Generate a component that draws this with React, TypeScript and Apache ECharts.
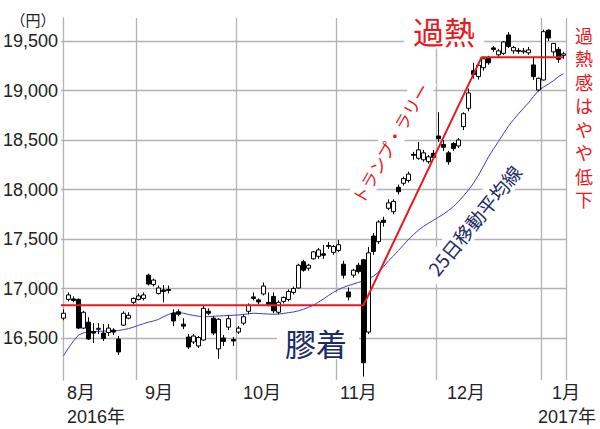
import React, { useEffect, useRef } from 'react';
import * as echarts from 'echarts';

// ---- data ----
const dates = [
  '2016/08/10','2016/08/12','2016/08/15','2016/08/16','2016/08/17','2016/08/18','2016/08/19','2016/08/22','2016/08/23','2016/08/24','2016/08/25','2016/08/26','2016/08/29','2016/08/30','2016/08/31',
  '2016/09/01','2016/09/02','2016/09/05','2016/09/06','2016/09/07','2016/09/08','2016/09/09','2016/09/12','2016/09/13','2016/09/14','2016/09/15','2016/09/16','2016/09/20','2016/09/21','2016/09/23','2016/09/26','2016/09/27','2016/09/28','2016/09/29','2016/09/30',
  '2016/10/03','2016/10/04','2016/10/05','2016/10/06','2016/10/07','2016/10/11','2016/10/12','2016/10/13','2016/10/14','2016/10/17','2016/10/18','2016/10/19','2016/10/20','2016/10/21','2016/10/24','2016/10/25','2016/10/26','2016/10/27','2016/10/28','2016/10/31',
  '2016/11/01','2016/11/02','2016/11/04','2016/11/07','2016/11/08','2016/11/09','2016/11/10','2016/11/11','2016/11/14','2016/11/15','2016/11/16','2016/11/17','2016/11/18','2016/11/21','2016/11/22','2016/11/24','2016/11/25','2016/11/28','2016/11/29','2016/11/30',
  '2016/12/01','2016/12/02','2016/12/05','2016/12/06','2016/12/07','2016/12/08','2016/12/09','2016/12/12','2016/12/13','2016/12/14','2016/12/15','2016/12/16','2016/12/19','2016/12/20','2016/12/21','2016/12/22','2016/12/26','2016/12/27','2016/12/28','2016/12/29','2016/12/30',
  '2017/01/04','2017/01/05','2017/01/06','2017/01/10','2017/01/11',
];

const opens = [
  16700,16890,16895,16890,16600,16660,16565,16588,16550,16555,16580,16490,16630,16700,16860,
  16890,16900,17135,17040,16950,16985,16990,16750,16765,16640,16510,16460,16420,16480,16770,16700,16390,16500,16610,16485,
  16560,16650,16770,16915,16885,16945,16860,16920,16760,16870,16890,16960,17005,17270,17205,17300,17325,17350,17425,17365,
  17385,17245,16965,17135,17235,17290,16560,17530,17473,17690,17810,17776,18022,18063,18090,18355,18315,18300,18281,18365,
  18540,18455,18370,18465,18440,18635,18820,19200,19140,19230,19325,19430,19360,19375,19560,19400,19405,19390,19380,19258,19005,
  19106,19610,19390,19415,19355,
];
const closes = [
  16750,16935,16880,16600,16760,16490,16550,16598,16495,16600,16560,16360,16750,16730,16900,
  16925,16935,17045,17085,17005,16970,16980,16672,16740,16620,16410,16520,16505,16800,16750,16550,16690,16465,16695,16470,
  16600,16715,16830,16900,16865,17025,16840,16775,16860,16910,16970,17000,17235,17185,17235,17370,17390,17336,17435,17425,
  17442,17134,16915,17185,17171,16251,17360,17374,17672,17668,17865,17880,17978,18110,18156,18345,18400,18370,18330,18325,
  18513,18426,18280,18415,18500,18765,18975,19160,19255,19320,19280,19415,19400,19490,19445,19435,19396,19400,19410,19140,19123,
  19594,19530,19475,19315,19370,
];
const lows = [
  16680,16870,16860,16590,16590,16480,16450,16540,16470,16520,16530,16330,16620,16690,16840,
  16880,16880,17030,17020,16940,16860,16950,16620,16720,16590,16390,16440,16400,16470,16730,16530,16290,16420,16580,16420,
  16540,16630,16740,16880,16840,16930,16820,16750,16740,16850,16870,16940,17000,17170,17180,17290,17300,17300,17400,17340,
  17370,17100,16880,17110,17150,16111,16540,17340,17450,17625,17790,17750,17950,18040,18070,18300,18300,18280,18260,18310,
  18480,18390,18250,18390,18420,18600,18790,19120,19110,19200,19260,19390,19340,19360,19430,19370,19370,19370,19360,19106,18990,
  19100,19500,19350,19280,19320,
];
const highs = [
  16790,16960,16920,16900,16775,16710,16650,16650,16640,16640,16600,16520,16770,16760,16910,
  16950,16960,17150,17100,17030,17035,17030,16790,16790,16700,16540,16540,16520,16830,16800,16720,16700,16530,16730,16510,
  16620,16740,16850,16960,16900,17060,16960,16960,16880,16920,16990,17020,17250,17290,17250,17380,17410,17440,17470,17440,
  17490,17280,17010,17200,17260,17300,17420,17560,17690,17725,17900,17900,18050,18130,18180,18380,18480,18400,18350,18400,
  18780,18500,18390,18480,18520,18780,19020,19280,19280,19340,19350,19450,19420,19500,19590,19450,19430,19430,19440,19340,19130,
  19615,19615,19480,19440,19390,
];

const ma25 = [
  16320,16400,16470,16530,16552,16562,16565,16568,16570,16572,16573,16575,16585,16595,16610,
  16628,16645,16660,16672,16688,16715,16738,16755,16758,16750,16738,16728,16720,16716,16716,16720,16722,16725,16728,16730,
  16733,16738,16745,16750,16748,16745,16742,16740,16742,16748,16756,16763,16775,16790,16810,16832,16862,16895,16930,16962,
  16990,17012,17030,17045,17062,17078,17100,17125,17165,17220,17280,17330,17385,17440,17495,17545,17590,17628,17660,17690,
  17720,17752,17787,17830,17880,17935,17995,18065,18145,18235,18330,18410,18485,18565,18640,18705,18765,18820,18875,18940,19000,
  19035,19065,19100,19140,19170,
];

// annotation trend line (day index, price)
const trendX = [-0.5, 60, 83.6, 99.9];
const trendY = [16830, 16830, 19335, 19335];

// axis tick labels
const yTickMin = 16500;
const yTickMax = 19500;
const yTickStep = 500;
const monthLabels = ['8月', '9月', '10月', '11月', '12月', '1月'];
const monthLabelIdx = [0, 15, 35, 55, 75, 96];
const yearLabels = ['2016年', '2017年'];
const yearLabelIdx = [0, 96];

// ---- styling constants ----
const FONT = '"Liberation Sans", Arial, "Noto Sans CJK JP", sans-serif';
const JFONT = '"Noto Sans CJK JP", "Liberation Sans", sans-serif';
const GRID_COLOR = '#b2b2b2';
const RED = '#e8191e';
const NAVY = '#1c2a68';
const Y_MIN = 16076;
const Y_MAX = 19732;
const monthDx = [3.5, 6.5, 4.5, 1.5, 8.5, 8.5];
const yearDx = [3.5, -5.5];

export default function App() {
  const ref = useRef<HTMLDivElement>(null);

  useEffect(() => {
    if (!ref.current) return;
    const chart = echarts.init(ref.current, null, { renderer: 'svg' });

    const isMonthStart = (i: number) =>
      i > 0 && dates[i].slice(5, 7) !== dates[i - 1].slice(5, 7);

    const option: any = {
      animation: false,
      backgroundColor: '#ffffff',
      grid: [
        { left: 61, top: 18, width: 505, height: 362 },
        { left: 61, top: 41, width: 505, height: 297 },
      ],
      xAxis: [
        {
          type: 'category',
          gridIndex: 0,
          data: dates,
          boundaryGap: true,
          axisLine: { show: false },
          axisTick: { show: false },
          axisLabel: { show: false },
          splitLine: {
            show: true,
            interval: (i: number) => isMonthStart(i),
            lineStyle: { color: GRID_COLOR, width: 1.3 },
          },
        },
        { type: 'value', gridIndex: 1, min: 0, max: 1, show: false },
        { type: 'value', gridIndex: 0, min: -0.5, max: dates.length - 0.5, show: false },
      ],
      yAxis: [
        {
          type: 'value',
          gridIndex: 0,
          min: Y_MIN,
          max: Y_MAX,
          axisLine: { show: true, lineStyle: { color: GRID_COLOR, width: 1.3 } },
          axisTick: { show: false },
          axisLabel: { show: false },
          splitLine: { show: false },
        },
        {
          type: 'value',
          gridIndex: 1,
          min: yTickMin,
          max: yTickMax,
          interval: yTickStep,
          axisLine: { show: false },
          axisTick: { show: false },
          axisLabel: {
            show: true,
            margin: 3,
            fontSize: 18,
            fontFamily: FONT,
            color: '#222',
            formatter: (v: number) => v.toLocaleString('en-US'),
          },
          splitLine: { show: true, lineStyle: { color: GRID_COLOR, width: 1.3 } },
        },
      ],
      series: [
        {
          type: 'line',
          name: '25日移動平均線',
          xAxisIndex: 0,
          yAxisIndex: 0,
          data: ma25,
          symbol: 'none',
          smooth: false,
          lineStyle: { color: '#3a3ad6', width: 1 },
          z: 2,
        },
        {
          type: 'candlestick',
          name: '日経平均',
          xAxisIndex: 0,
          yAxisIndex: 0,
          barWidth: 4,
          data: dates.map((_, i) => [opens[i], closes[i], lows[i], highs[i]]),
          itemStyle: {
            color: '#ffffff',
            color0: '#000000',
            borderColor: '#000000',
            borderColor0: '#000000',
            borderWidth: 1,
          },
          z: 3,
        },
        {
          type: 'line',
          name: 'trend',
          xAxisIndex: 2,
          yAxisIndex: 0,
          data: trendX.map((x, i) => [x, trendY[i]]),
          symbol: 'none',
          lineStyle: { color: RED, width: 2 },
          z: 4,
        },
      ],
    };
    chart.setOption(option);

    const labelEls: any[] = [];
    monthLabels.forEach((t, k) => {
      const px = chart.convertToPixel({ xAxisIndex: 0 }, monthLabelIdx[k]) as number;
      labelEls.push({
        type: 'text',
        x: px + monthDx[k],
        y: 393,
        style: { text: t, fontSize: 18, fontFamily: FONT, fill: '#222', align: 'left', verticalAlign: 'middle' },
      });
    });
    yearLabels.forEach((t, k) => {
      const px = chart.convertToPixel({ xAxisIndex: 0 }, yearLabelIdx[k]) as number;
      labelEls.push({
        type: 'text',
        x: px + yearDx[k],
        y: 417,
        style: { text: t, fontSize: 18, fontFamily: FONT, fill: '#222', align: 'left', verticalAlign: 'middle' },
      });
    });

    const annot: any[] = [
      {
        type: 'text',
        x: 33,
        y: 19,
        style: { text: '（円）', fontSize: 15, fontFamily: JFONT, fill: '#222', align: 'center', verticalAlign: 'middle' },
      },
      {
        type: 'text',
        x: 444,
        y: 30,
        z: 1,
        style: {
          text: '過熱', fontSize: 31, fontFamily: JFONT, fill: RED, align: 'center', verticalAlign: 'middle',
          backgroundColor: '#fff', padding: [2, 9, 4, 9],
        },
      },
      {
        type: 'text',
        x: 584,
        y: 23,
        style: {
          text: '過\n熱\n感\nは\nや\nや\n低\n下', fontSize: 18, lineHeight: 23.5, fontFamily: JFONT,
          fill: RED, align: 'center', verticalAlign: 'top',
        },
      },
      {
        type: 'text',
        x: 390,
        y: 143,
        rotation: (60 * Math.PI) / 180,
        z: 1,
        style: {
          text: 'トランプ・ラリー', fontSize: 17, fontFamily: JFONT, fill: RED, align: 'center', verticalAlign: 'middle',
          backgroundColor: '#fff', padding: [3, 6],
        },
      },
      {
        type: 'text',
        x: 474,
        y: 220,
        rotation: (51 * Math.PI) / 180,
        z: 1,
        style: {
          text: '25日移動平均線', fontSize: 19, fontFamily: JFONT, fill: NAVY, align: 'center', verticalAlign: 'middle',
          backgroundColor: '#fff', padding: [3, 6],
        },
      },
      {
        type: 'text',
        x: 277,
        y: 359,
        z: 1,
        style: {
          text: '膠着', fontSize: 31, fontFamily: JFONT, fill: NAVY, align: 'left', verticalAlign: 'bottom',
          backgroundColor: '#fff', padding: [34, 12, 1, 8],
        },
      },
    ];

    chart.setOption({ graphic: [...annot, ...labelEls] });

    return () => chart.dispose();
  }, []);

  return (
    <div
      ref={ref}
      style={{ position: 'fixed', left: 0, top: 0, width: 600, height: 429, background: '#fff' }}
    />
  );
}
